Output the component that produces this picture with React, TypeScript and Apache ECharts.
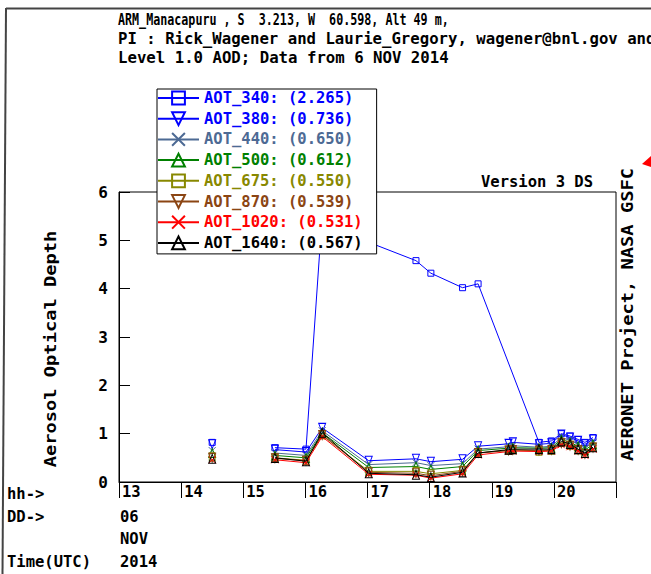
import React, { useEffect, useRef } from "react";
import * as echarts from "echarts";

// ---- data ----
const HOURS = [14.5, 15.51, 16.01, 16.27, 17.02, 17.78, 18.02, 18.53, 18.78, 19.27, 19.34, 19.76, 19.96, 20.12, 20.26, 20.39, 20.5, 20.63];
const BREAK_AFTER_HOUR = 14.5;

const AOT_340 = [0.82, 0.71, 0.68, 5.5, 4.96, 4.58, 4.32, 4.02, 4.1, null, null, 0.82, 0.85, 1.0, 0.95, 0.88, 0.82, 0.92];
const AOT_380 = [0.78, 0.67, 0.62, 1.12, 0.44, 0.48, 0.42, 0.47, 0.74, 0.79, 0.82, 0.78, 0.8, 0.98, 0.92, 0.85, 0.78, 0.88];
const AOT_440 = [0.65, 0.6, 0.55, 1.06, 0.36, 0.4, 0.34, 0.38, 0.68, 0.73, 0.75, 0.72, 0.74, 0.92, 0.86, 0.78, 0.7, 0.82];
const AOT_500 = [0.6, 0.55, 0.5, 1.02, 0.3, 0.32, 0.26, 0.32, 0.65, 0.7, 0.71, 0.7, 0.71, 0.88, 0.82, 0.74, 0.66, 0.78];
const AOT_675 = [0.52, 0.5, 0.45, 0.98, 0.22, 0.22, 0.17, 0.24, 0.6, 0.66, 0.67, 0.64, 0.66, 0.82, 0.76, 0.67, 0.59, 0.72];
const AOT_870 = [0.5, 0.49, 0.44, 0.97, 0.2, 0.18, 0.13, 0.22, 0.6, 0.65, 0.66, 0.65, 0.66, 0.8, 0.75, 0.66, 0.58, 0.71];
const AOT_1020 = [0.46, 0.46, 0.4, 0.94, 0.16, 0.14, 0.08, 0.17, 0.56, 0.63, 0.64, 0.63, 0.64, 0.77, 0.73, 0.64, 0.55, 0.68];
const AOT_1640 = [0.48, 0.5, 0.43, 1.02, 0.18, 0.15, 0.1, 0.2, 0.6, 0.67, 0.68, 0.68, 0.68, 0.84, 0.79, 0.68, 0.6, 0.72];

const SERIES_NAMES = ["AOT_340", "AOT_380", "AOT_440", "AOT_500", "AOT_675", "AOT_870", "AOT_1020", "AOT_1640"];
const SERIES_VALUES = [AOT_340, AOT_380, AOT_440, AOT_500, AOT_675, AOT_870, AOT_1020, AOT_1640];
const SERIES_MEANS = ["2.265", "0.736", "0.650", "0.612", "0.550", "0.539", "0.531", "0.567"];

const X_MIN = 13;
const X_MAX = 21;
const Y_MIN = 0;
const Y_MAX = 6;

const HEADER_LINES = [
  "ARM_Manacapuru , S  3.213, W  60.598, Alt 49 m,",
  "PI : Rick_Wagener and Laurie_Gregory, wagener@bnl.gov and",
  "Level 1.0 AOD; Data from 6 NOV 2014",
];

// ---- styles ----
const COLORS = ["#0000ff", "#0000ff", "#4d6a94", "#008000", "#888800", "#8b4513", "#ff0000", "#000000"];
const X_PATH = "path://M0 0L10 10M10 0L0 10";
const SYMBOLS = ["rect", "triangle", X_PATH, "triangle", "rect", "triangle", X_PATH, "triangle"];
const SYMBOL_ROT = [0, 180, 0, 0, 0, 180, 0, 0];
const SYMBOL_SIZE: any[] = [6, [7, 9], 7, [7, 9], [6, 8], [7, 9], 7, [7, 9]];
const HEADER_SCALE = [0.78, 1.045, 1.047];

const MONO = "'DejaVu Sans Mono', monospace";

function buildData(vals: (number | null)[]) {
  const rows: any[] = [];
  HOURS.forEach((h, i) => {
    const v = vals[i];
    if (v !== null && v !== undefined) rows.push([h, v]);
    if (h === BREAK_AFTER_HOUR) rows.push([h, "-"]);
  });
  return rows;
}

export default function App() {
  const ref = useRef<HTMLDivElement>(null);
  useEffect(() => {
    if (!ref.current) return;
    const chart = echarts.init(ref.current, null, { renderer: "svg", width: 651, height: 574 });

    const series = SERIES_NAMES.map((name, i) => ({
      name,
      type: "line",
      data: buildData(SERIES_VALUES[i]),
      symbol: SYMBOLS[i],
      symbolSize: SYMBOL_SIZE[i],
      symbolRotate: SYMBOL_ROT[i],
      showAllSymbol: true,
      lineStyle: { color: COLORS[i], width: 1 },
      itemStyle: { color: "rgba(255,255,255,0)", borderColor: COLORS[i], borderWidth: 1 },
      emphasis: { disabled: true },
      silent: true,
      z: 2 + i * 0.01,
    }));

    const headerTexts = HEADER_LINES.map((t, i) => ({
      type: "text",
      x: 118,
      y: 19.5 + i * 19.3,
      scaleX: HEADER_SCALE[i],
      style: { text: t, font: `bold 15px ${MONO}`, fill: "#000", textVerticalAlign: "middle" },
    }));

    const smallFont = `bold 15.5px ${MONO}`;
    const lbl = (text: string, x: number, y: number, align = "left") => ({
      type: "text",
      x,
      y,
      style: { text, font: smallFont, fill: "#000", textAlign: align, textVerticalAlign: "middle" },
    });

    const option: any = {
      animation: false,
      backgroundColor: "#fff",
      grid: { left: 119, right: 35, top: 192, bottom: 92, show: true, borderColor: "#000", borderWidth: 1, backgroundColor: "transparent" },
      xAxis: {
        type: "value",
        min: X_MIN,
        max: X_MAX,
        interval: 1,
        splitLine: { show: false },
        axisLine: { show: true, lineStyle: { color: "#000", width: 1 } },
        axisTick: { show: true, length: 16, lineStyle: { color: "#000" } },
        axisLabel: {
          margin: 2,
          align: "left",
          padding: [0, 0, 0, 3],
          color: "#000",
          fontFamily: MONO,
          fontWeight: "bold",
          fontSize: 15.5,
          formatter: (v: number) => (v >= X_MAX ? "" : String(v)),
        },
      },
      yAxis: {
        type: "value",
        min: Y_MIN,
        max: Y_MAX,
        interval: 1,
        splitLine: { show: false },
        axisLine: { show: true, lineStyle: { color: "#000", width: 1 } },
        axisTick: { show: true, inside: true, length: 11, lineStyle: { color: "#000" } },
        axisLabel: {
          margin: 11,
          padding: [6, 0, 0, 0],
          color: "#000",
          fontFamily: MONO,
          fontWeight: "bold",
          fontSize: 16,
        },
      },
      legend: {
        orient: "vertical",
        left: 157,
        top: 89,
        padding: [1, 14, 3, 0],
        itemGap: 4.7,
        itemWidth: 41,
        itemHeight: 16,
        backgroundColor: "#fff",
        borderColor: "#000",
        borderWidth: 1,
        borderRadius: 0,
        selectedMode: false,
        z: 10,
        textStyle: { fontFamily: MONO, fontWeight: "bold", fontSize: 15.5, lineHeight: 16 },
        data: SERIES_NAMES.map((n, i) => ({ name: n, textStyle: { color: COLORS[i] } })),
        formatter: (name: string) => `${name}: (${SERIES_MEANS[SERIES_NAMES.indexOf(name)]})`,
      },
      series,
      graphic: [
        // frame
        { type: "line", shape: { x1: 6, y1: 8.5, x2: 651, y2: 8.5 }, style: { stroke: "#444", lineWidth: 2 }, silent: true },
        { type: "line", shape: { x1: 6, y1: 8, x2: 2.5, y2: 574 }, style: { stroke: "#444", lineWidth: 2 }, silent: true },
        { type: "polygon", shape: { points: [[651, 156], [642, 164], [651, 167]] }, style: { fill: "#ff0000" }, silent: true },
        ...headerTexts,
        lbl("Version 3 DS", 593, 182, "right"),
        {
          type: "text",
          x: 50,
          y: 349,
          rotation: Math.PI / 2,
          scaleX: 1.17,
          style: { text: "Aerosol Optical Depth", font: `bold 16px ${MONO}`, fill: "#000", textAlign: "center", textVerticalAlign: "middle" },
        },
        {
          type: "text",
          x: 627,
          y: 314.5,
          rotation: Math.PI / 2,
          scaleX: 1.17,
          style: { text: "AERONET Project, NASA GSFC", font: `bold 16px ${MONO}`, fill: "#000", textAlign: "center", textVerticalAlign: "middle" },
        },
        lbl("hh->", 7, 494),
        lbl("DD->", 7, 517),
        lbl("06", 120, 517),
        lbl("NOV", 120, 539),
        lbl("Time(UTC)", 7, 562),
        lbl("2014", 120, 562),
      ],
    };
    chart.setOption(option);
    return () => chart.dispose();
  }, []);
  return <div ref={ref} style={{ position: "absolute", left: 0, top: 0, width: 651, height: 574, background: "#fff" }} />;
}
